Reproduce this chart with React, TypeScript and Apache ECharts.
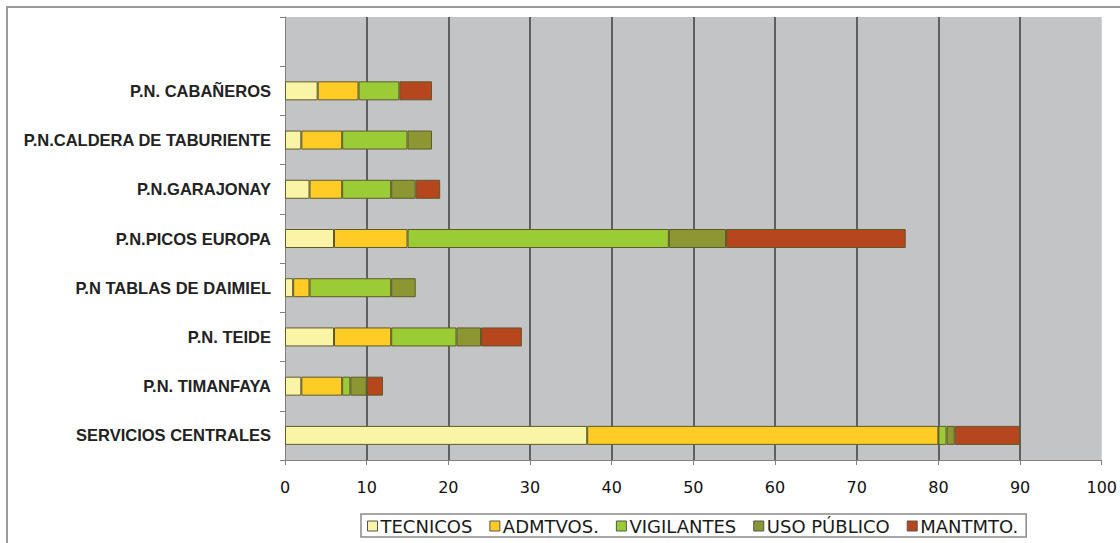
import React, { useEffect, useRef } from "react";
import * as echarts from "echarts";

const categories = [
  "",
  "P.N. CABAÑEROS",
  "P.N.CALDERA DE TABURIENTE",
  "P.N.GARAJONAY",
  "P.N.PICOS EUROPA",
  "P.N TABLAS DE DAIMIEL",
  "P.N. TEIDE",
  "P.N. TIMANFAYA",
  "SERVICIOS CENTRALES",
];
const seriesNames = ["TECNICOS", "ADMTVOS.", "VIGILANTES", "USO PÚBLICO", "MANTMTO."];
const tecnicos = [null, 4, 2, 3, 6, 1, 6, 2, 37];
const admtvos = [null, 5, 5, 4, 9, 2, 7, 5, 43];
const vigilantes = [null, 5, 8, 6, 32, 10, 8, 1, 1];
const usoPublico = [null, 0, 3, 3, 7, 3, 3, 2, 1];
const mantmto = [null, 4, 0, 3, 22, 0, 5, 2, 8];
const xTicks = [0, 10, 20, 30, 40, 50, 60, 70, 80, 90, 100];
const colors = ["#FAF4A6", "#FFCC26", "#9BCB35", "#8C9632", "#B6461D"];

export default function App() {
  const ref = useRef<HTMLDivElement>(null);
  useEffect(() => {
    if (!ref.current) return;
    const chart = echarts.init(ref.current, undefined, { renderer: "svg" });
    const values = [tecnicos, admtvos, vigilantes, usoPublico, mantmto];
    chart.setOption({
      animation: false,
      backgroundColor: "#ffffff",
      graphic: [
        {
          type: "rect",
          shape: { x: 7, y: 7, width: 1200, height: 600 },
          style: { fill: "transparent", stroke: "#9a9a9a", lineWidth: 2 },
          silent: true,
        },
      ],
      grid: {
        left: 285,
        right: 18,
        top: 17,
        bottom: 83,
        show: true,
        backgroundColor: "#C3C4C6",
        borderWidth: 0,
      },
      legend: {
        data: seriesNames,
        left: 361,
        top: 514,
        orient: "horizontal",
        icon: "rect",
        itemWidth: 10,
        itemHeight: 10,
        itemGap: 17,
        padding: [3, 8, 2, 6],
        borderColor: "#8a8a8a",
        borderWidth: 1.5,
        backgroundColor: "#ffffff",
        itemStyle: { borderColor: "#555", borderWidth: 1 },
        textStyle: { fontFamily: "DejaVu Sans", fontSize: 18, color: "#1a1a1a", padding: [0, 0, 0, -2] },
      },
      xAxis: {
        type: "value",
        min: xTicks[0],
        max: xTicks[xTicks.length - 1],
        interval: 10,
        axisLine: { show: true, lineStyle: { color: "#808080", width: 1 } },
        axisTick: { show: true, length: 5, lineStyle: { color: "#808080" } },
        axisLabel: { fontFamily: "DejaVu Sans", fontSize: 16, color: "#111", margin: 19 },
        splitLine: {
          show: true,
          showMinLine: false,
          showMaxLine: false,
          lineStyle: { color: "#555555", width: 1.8 },
        },
      },
      yAxis: {
        type: "category",
        inverse: true,
        data: categories,
        axisLine: { show: true, lineStyle: { color: "#808080", width: 1 } },
        axisTick: { show: true, length: 5, lineStyle: { color: "#808080" } },
        axisLabel: {
          fontFamily: "Liberation Sans",
          fontWeight: "bold",
          fontSize: 16.5,
          color: "#222",
          margin: 14,
        },
      },
      series: seriesNames.map((name, i) => ({
        name,
        type: "bar",
        stack: "total",
        barWidth: 19,
        itemStyle: { color: colors[i], borderColor: "#5e5a2a", borderWidth: 1 },
        data: values[i].map((v) => (v === 0 || v === null ? "-" : v)),
      })),
    });
    return () => chart.dispose();
  }, []);
  return (
    <div
      ref={ref}
      style={{ position: "absolute", left: 0, top: 0, width: 1120, height: 543 }}
    />
  );
}
